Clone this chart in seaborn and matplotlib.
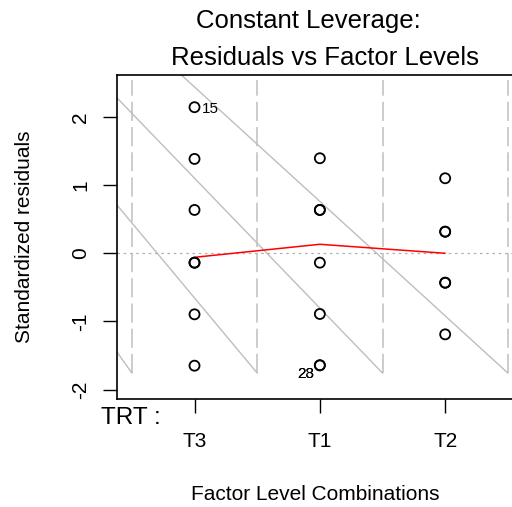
import matplotlib
matplotlib.use("Agg")
import matplotlib.pyplot as plt
import pandas as pd
import seaborn as sns

# Factor levels in plotting order and standardized residuals per level
levels = ["T3", "T1", "T2"]
resid_T3 = [2.144, 1.385, 0.636, -0.138, -0.138, -0.896, -1.650]
resid_T1 = [1.395, 0.636, 0.636, -0.138, -0.891, -1.644, -1.644]
resid_T2 = [1.101, 0.317, 0.317, -0.432, -0.432, -1.190]

# Smoother through the level groups
smooth_vals = [-0.059, 0.132, 0.0]

# Case labels for the most extreme residuals
label_text = ["15", "28", "23"]
label_level = ["T3", "T1", "T1"]
label_value = [2.144, -1.644, -1.644]
label_side = ["right", "left", "left"]

# Level separators and their guide rays
separators = [-0.5, 0.5, 1.5, 2.5]
sep_top, sep_bottom = 2.545, -1.758
ray_origin = (-5.90, 12.35)

y_ticks = [-2, -1, 0, 1, 2]

sns.set_theme(style="white")
plt.rcParams["font.family"] = ["Liberation Sans", "DejaVu Sans"]
plt.rcParams.update({
    "text.color": "black",
    "axes.labelcolor": "black",
    "xtick.color": "black",
    "ytick.color": "black",
})

pos = {lv: i for i, lv in enumerate(levels)}
df = pd.DataFrame({
    "level": ["T3"] * len(resid_T3) + ["T1"] * len(resid_T1) + ["T2"] * len(resid_T2),
    "resid": resid_T3 + resid_T1 + resid_T2,
})
df["x"] = df["level"].map(pos)
smooth_df = pd.DataFrame({"x": [pos[l] for l in levels], "y": smooth_vals})

fig = plt.figure(figsize=(5.12, 5.07), dpi=100)
ax = fig.add_axes([0.2279, 0.2130, 0.7936, 0.6391])

grey = "#BEBEBE"
# guide rays from the foot of each separator
for s in separators:
    ax.plot([s, ray_origin[0]], [sep_bottom, ray_origin[1]], color=grey, lw=1.0, zorder=1)
# dashed level separators
ax.vlines(separators, sep_bottom, sep_top, colors=grey, lw=1.1,
          linestyles=(0, (12.5, 4.0)), zorder=1)
# zero reference
ax.axhline(0, color="#B0B0B0", lw=0.9, ls=(0, (2, 3)), zorder=1)

sns.scatterplot(data=df, x="x", y="resid", ax=ax, marker="o", s=52,
                facecolors="none", edgecolor="black", linewidth=1.3, zorder=3)
sns.lineplot(data=smooth_df, x="x", y="y", ax=ax, color="red", lw=1.1, zorder=2)

for t, lv, v, side in zip(label_text, label_level, label_value, label_side):
    if side == "right":
        ax.annotate(t, (pos[lv], v), xytext=(5, -1.5), textcoords="offset points",
                    ha="left", va="center", fontsize=11, color="black")
    else:
        ax.annotate(t, (pos[lv], v), xytext=(-4, -6), textcoords="offset points",
                    ha="right", va="center", fontsize=11, color="black")

ax.set_xlim(-0.621, 2.621)
ax.set_ylim(-2.139, 2.617)
ax.set_xticks(range(len(levels)))
ax.set_xticklabels(levels)
ax.set_yticks(y_ticks)
ax.set_yticklabels([str(v) for v in y_ticks])
ax.tick_params(axis="both", which="major", direction="out", length=10, width=1.0,
               color="black", labelcolor="black", labelsize=15, left=True, bottom=True)
ax.tick_params(axis="x", pad=14)
ax.tick_params(axis="y", pad=9)
for lab in ax.get_yticklabels():
    lab.set_rotation(90)
    lab.set_va("center")
for sp in ax.spines.values():
    sp.set_color("black")
    sp.set_linewidth(1.2)

ax.set_xlabel("")
ax.set_ylabel("")
fig.text(25 / 512, 1 - 237 / 507, "Standardized residuals", rotation=90,
         ha="center", va="center", fontsize=15)
fig.text(315 / 512, 1 - 495 / 507, "Factor Level Combinations",
         ha="center", va="center", fontsize=15)
fig.text(101 / 512, 1 - 418 / 507, "TRT :", ha="left", va="center", fontsize=17.5)
fig.text(308 / 512, 1 - 21 / 507, "Constant Leverage:", ha="center", va="center",
         fontsize=18.5)
fig.text(325 / 512, 1 - 58 / 507, "Residuals vs Factor Levels", ha="center",
         va="center", fontsize=18.5)

fig.savefig("out.png", dpi=100)
